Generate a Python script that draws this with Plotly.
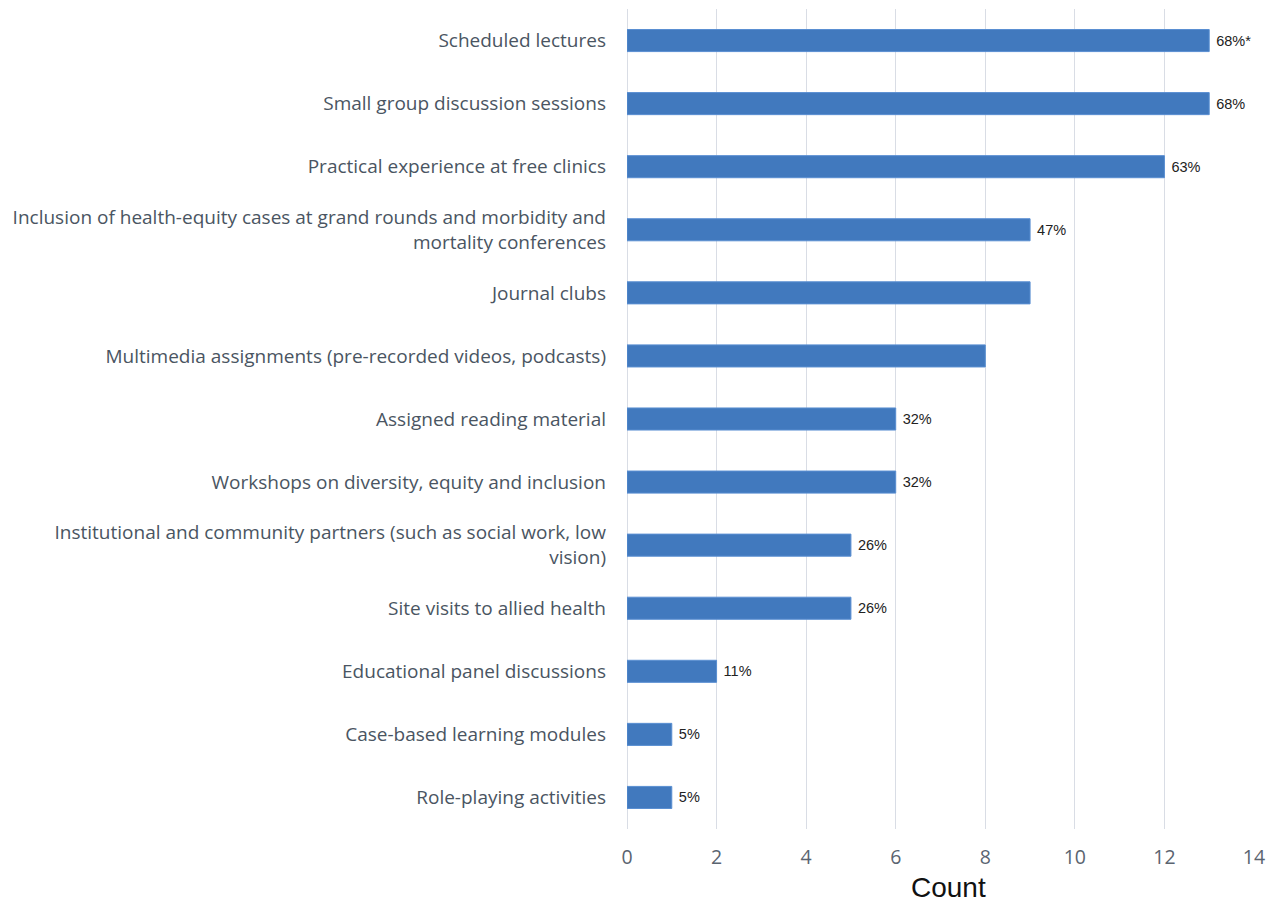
import plotly.graph_objects as go

categories = [
    "Scheduled lectures",
    "Small group discussion sessions",
    "Practical experience at free clinics",
    "Inclusion of health-equity cases at grand rounds and morbidity and<br>mortality conferences",
    "Journal clubs",
    "Multimedia assignments (pre-recorded videos, podcasts)",
    "Assigned reading material",
    "Workshops on diversity, equity and inclusion",
    "Institutional and community partners (such as social work, low<br>vision)",
    "Site visits to allied health",
    "Educational panel discussions",
    "Case-based learning modules",
    "Role-playing activities",
]
counts = [13, 13, 12, 9, 9, 8, 6, 6, 5, 5, 2, 1, 1]
pct_labels = ["68%*", "68%", "63%", "47%", "", "", "32%", "32%", "26%", "26%", "11%", "5%", "5%"]
x_ticks = [0, 2, 4, 6, 8, 10, 12, 14]
x_title = "Count"

fig = go.Figure(go.Bar(
    y=categories,
    x=counts,
    orientation="h",
    width=0.35,
    marker=dict(color="#4179BE", line=dict(color="#5A8FD2", width=1)),
    text=[(" " + t) if t else "" for t in pct_labels],
    textposition="outside",
    cliponaxis=False,
    textfont=dict(family="Liberation Sans, Arial", size=14.5, color="#222222"),
))

fig.update_layout(
    width=1258, height=897,
    margin=dict(l=619, r=12, t=1, b=76),
    paper_bgcolor="white", plot_bgcolor="white",
    showlegend=False,
)
fig.add_annotation(
    text=x_title, xref="paper", yref="paper", x=0.512, y=0,
    xanchor="center", yanchor="middle", yshift=-58, showarrow=False,
    font=dict(family="Liberation Sans, Arial", size=28, color="#111111"),
)
fig.update_xaxes(
    range=[0, 14], tickvals=x_ticks, showgrid=True, gridcolor="#D9DDE5", gridwidth=1,
    zeroline=True, zerolinecolor="#D9DDE5", zerolinewidth=1,
    tickfont=dict(family="Open Sans", size=19.5, color="#5A6470"),
    ticks="", ticklabelstandoff=14, automargin=False,
    showline=False,
)
fig.update_yaxes(
    categoryorder="array", categoryarray=categories[::-1],
    autorange=True,
    tickfont=dict(family="Open Sans", size=19, color="#4A5562"),
    ticks="", ticklabelstandoff=20, showgrid=False, showline=False,
)

fig.write_html("out.html")
